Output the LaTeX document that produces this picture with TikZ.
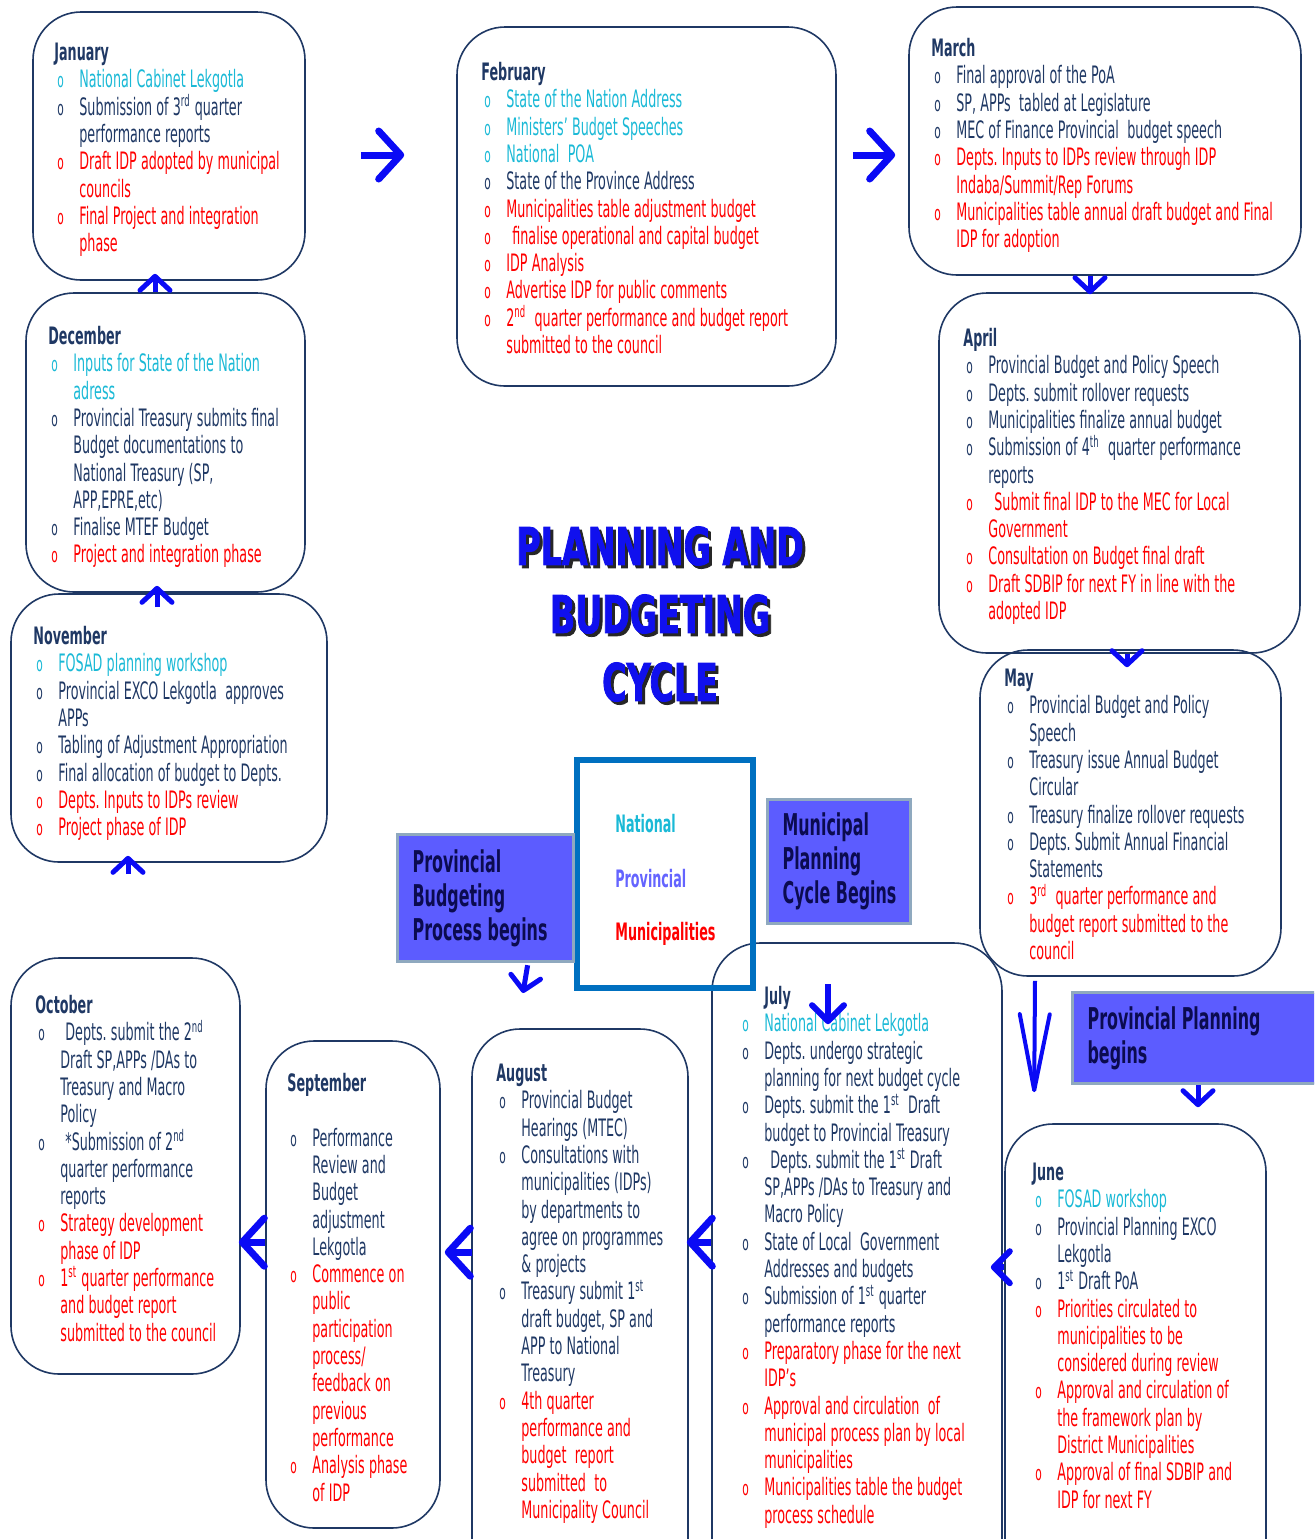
\documentclass[tikz,border=0pt]{standalone}
\usepackage{fontspec}
\setmainfont{DejaVu Sans}[FakeStretch=0.53]
\newfontfamily\titlefont{DejaVu Sans}[FakeStretch=0.64,BoldFeatures={FakeBold=1.5}]
\usetikzlibrary{arrows.meta, positioning, calc, fit}

\definecolor{navy}{HTML}{1F3864}
\definecolor{cy}{HTML}{1AB9D6}
\definecolor{rd}{HTML}{FF0000}
\definecolor{arrblue}{HTML}{0A0AF5}
\definecolor{flagfill}{HTML}{5C5CFF}
\definecolor{flagedge}{HTML}{8FA9BF}
\definecolor{flagtext}{HTML}{0B0B50}
\definecolor{lvledge}{HTML}{0070C0}
\definecolor{provcol}{HTML}{6464FF}
\definecolor{titleblue}{HTML}{1010EE}

\frenchspacing
\newcommand\nl{\newline}
\newcommand\ord[1]{\smash{\textsuperscript{#1}}}
\newcommand\tightsp[1]{\spaceskip=#1 plus 1pt\relax\xspaceskip=#1\relax}
\newcommand\mhead[2][0pt]{\tightsp{2.1pt}\noindent\hspace*{#1}{\bfseries\color{navy}\strut#2}\par}
\newcommand\itm[2]{\par\noindent\hangindent=12.5pt\hangafter=1{\color{#1}\hspace*{1.5pt}\makebox[11pt][l]{\fontsize{10}{10}\selectfont o}#2}}

\begin{document}
\begin{tikzpicture}[x=0.5pt, y=-0.5pt,
    month/.style={draw=navy, line width=0.8pt, rounded corners=24pt, inner sep=0pt},
    mtext/.style={anchor=north west, inner sep=0pt, text width=260pt, align=left,
                  text=navy, font=\fontsize{12}{13.65}\selectfont},
    flag/.style={draw=flagedge, line width=1.6pt, fill=flagfill, anchor=north west,
                 inner ysep=0pt, inner xsep=7.5pt, align=left, text=flagtext,
                 font=\fontsize{15}{17}\selectfont\bfseries},
    lvl/.style={anchor=west, inner sep=0pt, font=\fontsize{12}{14}\selectfont\bfseries},
    heading/.style={align=center, inner sep=0pt, font=\titlefont\fontsize{26}{34}\selectfont\bfseries},
    bigarrow/.style={draw=arrblue, line width=3.5pt, -{Straight Barb[length=11pt, width=24pt, round]}},
    midarrow/.style={draw=arrblue, line width=3pt, -{Straight Barb[length=8pt, width=16pt, round]}},
    smallarrow/.style={draw=arrblue, line width=2.5pt, -{Straight Barb[length=7pt, width=15pt, round]}},
    longarrow/.style={draw=arrblue, line width=2pt, -{Straight Barb[length=38pt, width=15pt, round]}}]
  \clip (0,0) rectangle (1314,1539);

  % month boxes
  \node[month, fit={(33,12) (305,280)}] (jan) {};
  \node[month, fit={(457,27) (836,386)}] (feb) {};
  \node[month, fit={(909,7) (1301,275)}] (mar) {};
  \node[month, fit={(939,293) (1300,653)}] (apr) {};
  \node[month, fit={(980,650) (1281,976)}] (may) {};
  \node[month, fit={(1005,1124) (1266,1600)}] (jun) {};
  \node[month, fit={(712,943) (1002,1600)}] (jul) {};
  \node[month, fit={(472,1029) (688,1600)}] (aug) {};
  \node[month, fit={(266,1041) (440,1528)}] (sep) {};
  \node[month, fit={(11,958) (240,1374)}] (oct) {};
  \node[month, fit={(11,594) (327,862)}] (nov) {};
  \node[month, fit={(26,293) (305,592)}] (dec) {};

  % month contents
  \node[mtext] (jantxt) at (54,41) {\mhead{January}
    \itm{cy}{National Cabinet Lekgotla}
    \itm{navy}{Submission of 3\ord{rd} quarter\nl performance reports}
    \itm{rd}{Draft IDP adopted by municipal\nl councils}
    \itm{rd}{Final Project and integration\nl phase}\par};
  \node[mtext] (febtxt) at (481,61) {\mhead{February}
    \itm{cy}{State of the Nation Address}
    \itm{cy}{Ministers’ Budget Speeches}
    \itm{cy}{National\ \ POA}
    \itm{navy}{State of the Province Address}
    \itm{rd}{Municipalities table adjustment budget}
    \itm{rd}{\hspace{3pt}finalise operational and capital budget}
    \itm{rd}{IDP Analysis}
    \itm{rd}{Advertise IDP for public comments}
    \itm{rd}{2\ord{nd}\ \ quarter performance and budget report\nl submitted to the council}\par};
  \node[mtext] (martxt) at (931,37) {\mhead{March}
    \itm{navy}{Final approval of the PoA}
    \itm{navy}{SP, APPs\ \ tabled at Legislature}
    \itm{navy}{MEC of Finance Provincial\ \ budget speech}
    \itm{rd}{Depts. Inputs to IDPs review through IDP\nl Indaba/Summit/Rep Forums}
    \itm{rd}{Municipalities table annual draft budget and Final\nl IDP for adoption}\par};
  \node[mtext] (aprtxt) at (963,327) {\mhead{April}
    \itm{navy}{Provincial Budget and Policy Speech}
    \itm{navy}{Depts. submit rollover requests}
    \itm{navy}{Municipalities finalize annual budget}
    \itm{navy}{Submission of 4\ord{th}\ \ quarter performance\nl reports}
    \itm{rd}{\hspace{3pt}Submit final IDP to the MEC for Local\nl Government}
    \itm{rd}{Consultation on Budget final draft}
    \itm{rd}{Draft SDBIP for next FY in line with the\nl adopted IDP}\par};
  \node[mtext] (maytxt) at (1004,667) {\mhead{May}
    \itm{navy}{Provincial Budget and Policy\nl Speech}
    \itm{navy}{Treasury issue Annual Budget\nl Circular}
    \itm{navy}{Treasury finalize rollover requests}
    \itm{navy}{Depts. Submit Annual Financial\nl Statements}
    \itm{rd}{3\ord{rd}\ \ quarter performance and\nl budget report submitted to the\nl council}\par};
  \node[mtext] (juntxt) at (1032,1161) {\mhead{June}
    \itm{cy}{FOSAD workshop}
    \itm{navy}{Provincial Planning EXCO\nl Lekgotla}
    \itm{navy}{1\ord{st} Draft PoA}
    \itm{rd}{Priorities circulated to\nl municipalities to be\nl considered during review}
    \itm{rd}{Approval and circulation of\nl the framework plan by\nl District Municipalities}
    \itm{rd}{Approval of final SDBIP and\nl IDP for next FY}\par};
  \node[mtext] (jultxt) at (739,985) {\mhead[12.5pt]{July}
    \itm{cy}{National Cabinet Lekgotla}
    \itm{navy}{Depts. undergo strategic\nl planning for next budget cycle}
    \itm{navy}{Depts. submit the 1\ord{st}\ \ Draft\nl budget to Provincial Treasury}
    \itm{navy}{\hspace{3pt}Depts. submit the 1\ord{st} Draft\nl SP,APPs /DAs to Treasury and\nl Macro Policy}
    \itm{navy}{State of Local\ \ Government\nl Addresses and budgets}
    \itm{navy}{Submission of 1\ord{st} quarter\nl performance reports}
    \itm{rd}{Preparatory phase for the next\nl IDP’s}
    \itm{rd}{Approval and circulation\ \ of\nl municipal process plan by local\nl municipalities}
    \itm{rd}{Municipalities table the budget\nl process schedule}\par};
  \node[mtext] (augtxt) at (496,1062) {\mhead{August}
    \itm{navy}{Provincial Budget\nl Hearings (MTEC)}
    \itm{navy}{Consultations with\nl municipalities (IDPs)\nl by departments to\nl agree on programmes\nl \& projects}
    \itm{navy}{Treasury submit 1\ord{st}\nl draft budget, SP and\nl APP to National\nl Treasury}
    \itm{rd}{4th quarter\nl performance and\nl budget\ \ report\nl submitted\ \ to\nl Municipality Council}\par};
  \node[mtext] (septxt) at (287,1072) {\mhead{September}
    \strut
    \itm{navy}{Performance\nl Review and\nl Budget\nl adjustment\nl Lekgotla}
    \itm{rd}{Commence on\nl public\nl participation\nl process/\nl feedback on\nl previous\nl performance}
    \itm{rd}{Analysis phase\nl of IDP}\par};
  \node[mtext] (octtxt) at (35,994) {\mhead{October}
    \itm{navy}{\hspace{2.5pt}Depts. submit the 2\ord{nd}\nl Draft SP,APPs /DAs to\nl Treasury and Macro\nl Policy}
    \itm{navy}{\hspace{2.5pt}*Submission of 2\ord{nd}\nl quarter performance\nl reports}
    \itm{rd}{Strategy development\nl phase of IDP}
    \itm{rd}{1\ord{st} quarter performance\nl and budget report\nl submitted to the council}\par};
  \node[mtext] (novtxt) at (33,625) {\mhead{November}
    \itm{cy}{FOSAD planning workshop}
    \itm{navy}{Provincial EXCO Lekgotla\ \ approves\nl APPs}
    \itm{navy}{Tabling of Adjustment Appropriation}
    \itm{navy}{Final allocation of budget to Depts.}
    \itm{rd}{Depts. Inputs to IDPs review}
    \itm{rd}{Project phase of IDP}\par};
  \node[mtext] (dectxt) at (48,325) {\mhead{December}
    \itm{cy}{Inputs for State of the Nation\nl adress}
    \itm{navy}{Provincial Treasury submits final\nl Budget documentations to\nl National Treasury (SP,\nl APP,EPRE,etc)}
    \itm{navy}{Finalise MTEF Budget}
    \itm{rd}{Project and integration phase}\par};

  % title
  \node[heading, text=black!85] (titleshadow) at (663,617) {PLANNING AND\\BUDGETING\\CYCLE};
  \node[heading, text=titleblue] (title) at (660,614) {PLANNING AND\\BUDGETING\\CYCLE};

  % spheres of government
  \node[draw=lvledge, line width=3pt, inner sep=0pt, fit={(577,760) (753,988)}] (levels) {};
  \node[lvl, text=cy] (natl) at (615,824) {National};
  \node[lvl, text=provcol] (prov) at (615,879) {Provincial};
  \node[lvl, text=rd] (muni) at (615,934) {Municipalities};

  % starting points
  \node[flag, minimum height=63.5pt, text width=73pt] (pbp) at (396,833) {\tightsp{2.8pt}Provincial\\Budgeting\\\mbox{Process begins}};
  \node[flag, minimum height=62pt, text width=56.5pt] (mpc) at (766,798) {\tightsp{2.8pt}Municipal\\Planning\\\mbox{Cycle Begins}};
  \node[flag, minimum height=45.5pt, text width=114.5pt] (ppb) at (1071,991) {\tightsp{2.8pt}\mbox{Provincial Planning}\\begins};

  % flow of the year
  \draw[bigarrow] ($(jan.east)+(55,9)$) -- ($(feb.west)+(-52,-51.5)$);
  \draw[bigarrow] ($(feb.east)+(16,-51.5)$) -- ($(mar.west)+(-13,14)$);
  \draw[smallarrow] ($(mar.south)+(-15,0)$) -- ($(apr.north)+(-29.5,2)$);
  \draw[smallarrow] ($(apr.south)+(7.5,0)$) -- ($(may.north)+(-3.5,18)$);
  \draw[longarrow] ($(may.south)+(-95.5,4)$) -- ($(jun.north west)+(30,-31)$);
  \draw[smallarrow] ($(ppb.south west)+(127,0)$) -- ($(jun.north)+(62.5,-16)$);
  \draw[midarrow] ($(jun.north west)+(0,144)$) -- ($(jul.north east)+(-12,325)$);
  \draw[midarrow] ($(jul.north)+(-29,42)$) -- ($(jul.north)+(-29,82)$);
  \draw[bigarrow] ($(jul.north west)+(0,300)$) -- ($(aug.north east)+(-2,214)$);
  \draw[bigarrow] ($(aug.north west)+(1,224)$) -- ($(sep.north east)+(4,212)$);
  \draw[bigarrow] ($(sep.north west)+(0,202)$) -- ($(oct.north east)+(-2,285)$);
  \draw[smallarrow] ($(oct.north)+(2.5,-83)$) -- ($(nov.south)+(-41,-7)$);
  \draw[smallarrow] ($(nov.north)+(-12,14)$) -- ($(dec.south)+(-8.5,-7)$);
  \draw[smallarrow] ($(dec.north)+(-10.5,0)$) -- ($(jan.south)+(-14,-7)$);
  \draw[smallarrow] ($(pbp.south)+(42,2)$) -- ($(levels.south west)+(-51,2)$);
\end{tikzpicture}
\end{document}
